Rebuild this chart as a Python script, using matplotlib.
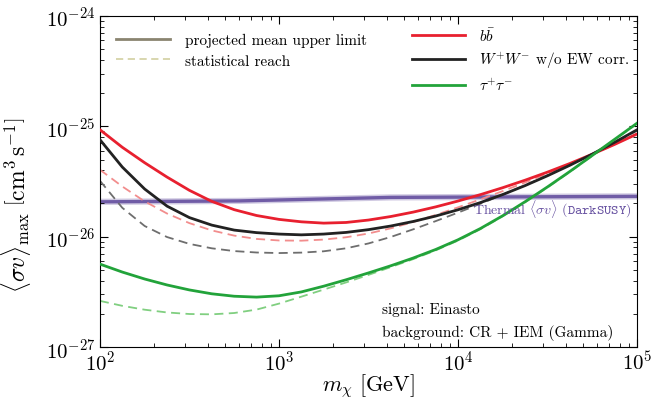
import numpy as np
import matplotlib
matplotlib.use("Agg")
import matplotlib.pyplot as plt
from matplotlib.lines import Line2D

plt.rcParams['font.family'] = 'serif'
plt.rcParams['font.serif'] = ['cmr10']
plt.rcParams['mathtext.fontset'] = 'cm'
plt.rcParams['axes.formatter.use_mathtext'] = True

# log10 of dark matter mass [GeV]
log_mass = [2.0, 2.125, 2.25, 2.375, 2.5, 2.625, 2.75, 2.875, 3.0, 3.125, 3.25, 3.375,
            3.5, 3.625, 3.75, 3.875, 4.0, 4.125, 4.25, 4.375, 4.5, 4.625, 4.75, 4.875, 5.0]

# log10 <sigma v> [cm^3 s^-1], projected mean upper limits
bb_mean = [-25.031, -25.190, -25.330, -25.460, -25.580, -25.680, -25.755, -25.808, -25.843,
           -25.865, -25.877, -25.871, -25.849, -25.817, -25.777, -25.730, -25.677, -25.619,
           -25.556, -25.488, -25.415, -25.337, -25.253, -25.164, -25.070]
ww_mean = [-25.121, -25.369, -25.568, -25.723, -25.827, -25.895, -25.940, -25.963, -25.976,
           -25.983, -25.976, -25.961, -25.936, -25.903, -25.862, -25.813, -25.756, -25.691,
           -25.618, -25.537, -25.448, -25.353, -25.252, -25.145, -25.032]
tau_mean = [-26.248, -26.320, -26.383, -26.437, -26.482, -26.517, -26.539, -26.547, -26.535,
            -26.500, -26.448, -26.390, -26.328, -26.263, -26.193, -26.116, -26.028, -25.926,
            -25.810, -25.683, -25.549, -25.409, -25.264, -25.118, -24.972]

# statistical reach
bb_stat = [-25.393, -25.545, -25.680, -25.790, -25.877, -25.943, -25.990, -26.020, -26.034,
           -26.036, -26.026, -26.005, -25.971, -25.924, -25.867, -25.803, -25.734, -25.662,
           -25.587, -25.509, -25.428, -25.344, -25.256, -25.163, -25.065]
ww_stat = [-25.493, -25.738, -25.903, -26.003, -26.065, -26.105, -26.130, -26.143, -26.148,
           -26.144, -26.132, -26.105, -26.061, -26.002, -25.933, -25.859, -25.782, -25.702,
           -25.619, -25.533, -25.443, -25.349, -25.251, -25.149, -25.040]
tau_stat = [-26.581, -26.626, -26.661, -26.686, -26.700, -26.703, -26.691, -26.660, -26.606,
            -26.543, -26.479, -26.414, -26.346, -26.275, -26.203, -26.124, -26.035, -25.932,
            -25.815, -25.688, -25.554, -25.413, -25.268, -25.122, -24.976]

# thermal cross section (DarkSUSY)
thermal_mass = [1e2, 6e2, 4.2e3, 1e5]
thermal_sv = [2.07e-26, 2.11e-26, 2.27e-26, 2.32e-26]

mass = 10 ** np.array(log_mass)
red = '#e8202f'
black = '#222222'
green = '#22a33a'
purple = '#6650a0'
dash = (0, (5, 3))

fig = plt.figure(figsize=(6.53, 4.02), dpi=100)
ax = fig.add_axes([0.153, 0.134, 0.8225, 0.824])

ax.plot(thermal_mass, thermal_sv, color=purple, lw=4.5, alpha=0.3, zorder=1)
ax.plot(thermal_mass, thermal_sv, color=purple, lw=2.4, alpha=0.9, zorder=1)

ax.plot(mass, 10 ** np.array(bb_stat), color='#f28d8d', lw=1.3, ls=dash, zorder=2)
ax.plot(mass, 10 ** np.array(ww_stat), color='#6e6e6e', lw=1.3, ls=dash, zorder=2)
ax.plot(mass, 10 ** np.array(tau_stat), color='#80cf80', lw=1.3, ls=dash, zorder=2)

ax.plot(mass, 10 ** np.array(bb_mean), color=red, lw=2, zorder=3)
ax.plot(mass, 10 ** np.array(ww_mean), color=black, lw=2, zorder=3)
ax.plot(mass, 10 ** np.array(tau_mean), color=green, lw=2, zorder=3)

ax.set_xscale('log')
ax.set_yscale('log')
ax.set_xlim(1e2, 1e5)
ax.set_ylim(1e-27, 1e-24)

ax.tick_params(which='both', direction='in', top=True, right=True, labelsize=15)
ax.tick_params(axis='x', pad=2)
ax.tick_params(which='major', length=6)
ax.tick_params(which='minor', length=3)

ax.set_xlabel(r'$m_\chi\ [\mathrm{GeV}]$', fontsize=16, labelpad=-2)
ax.set_ylabel(r'$\overline{\langle\sigma v\rangle}_{\mathrm{max}}\ \left[\mathrm{cm^3\,s^{-1}}\right]$',
              fontsize=17, labelpad=0)
ax.yaxis.set_label_coords(-0.123, 0.43)

ax.text(0.99, 0.42, r'Thermal $\langle\sigma v\rangle$ $\mathtt{(DarkSUSY)}$',
        transform=ax.transAxes, ha='right', va='center', color=purple, fontsize=10)

ax.text(0.526, 0.115, 'signal: Einasto', transform=ax.transAxes,
        ha='left', va='center', fontsize=11)
ax.text(0.526, 0.045, 'background: CR + IEM (Gamma)', transform=ax.transAxes,
        ha='left', va='center', fontsize=11)

leg1 = ax.legend([Line2D([], [], color='#8a8470', lw=2),
                  Line2D([], [], color='#d6d3a8', lw=1.3, ls=(0, (4, 2.5)))],
                 ['projected mean upper limit', 'statistical reach'],
                 loc='upper left', bbox_to_anchor=(0.005, 0.99), frameon=False,
                 fontsize=11, handlelength=3.5, handletextpad=1.0, labelspacing=0.45)
ax.add_artist(leg1)
ax.legend([Line2D([], [], color=red, lw=2),
           Line2D([], [], color=black, lw=2),
           Line2D([], [], color=green, lw=2)],
          [r'$b\bar{b}$', r'$W^{+}W^{-}$ w/o EW corr.', r'$\tau^{+}\tau^{-}$'],
          loc='upper left', bbox_to_anchor=(0.555, 1.01), frameon=False,
          fontsize=11, handlelength=3.5, handletextpad=0.9, labelspacing=0.42)

fig.savefig('out.png', dpi=100)
